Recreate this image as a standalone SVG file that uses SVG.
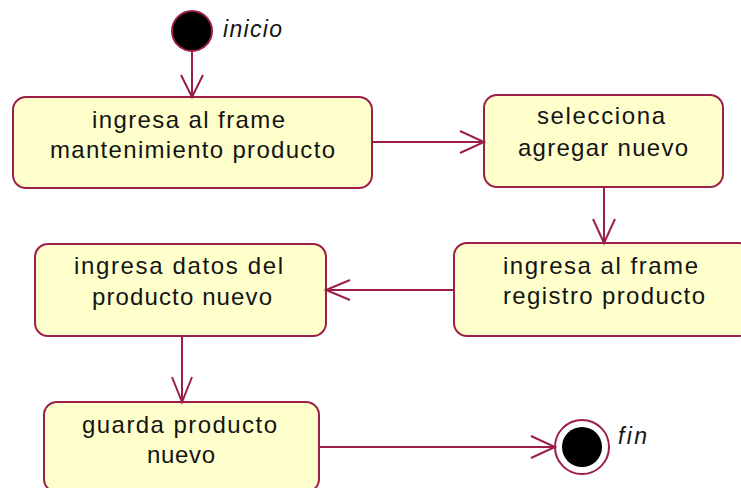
<svg xmlns="http://www.w3.org/2000/svg" width="741" height="488" viewBox="0 0 741 488">
<style>
.box{fill:#ffffcc;stroke:#9c1f4a;stroke-width:2}
.t{font-family:"Liberation Sans",Arial,sans-serif;font-size:24px;fill:#141414}
.lbl{font-family:"Liberation Sans",Arial,sans-serif;font-size:23px;font-style:italic;fill:#141414}
.edge{stroke:#9c1f4a;stroke-width:2;fill:none}
</style>
<rect width="741" height="488" fill="#ffffff"/>
<g id="inicio">
<circle cx="192" cy="31" r="20" fill="#000" stroke="#9c1f4a" stroke-width="2"/>
<text class="lbl" x="223" y="37" textLength="59" lengthAdjust="spacing">inicio</text>
</g>
<g id="n1">
<rect class="box" x="13" y="97" width="359" height="91" rx="13"/>
<text class="t" x="92" y="128" textLength="193" lengthAdjust="spacing">ingresa al frame</text>
<text class="t" x="50" y="158" textLength="285" lengthAdjust="spacing">mantenimiento producto</text>
</g>
<g id="n2">
<rect class="box" x="484" y="95" width="239" height="92" rx="13"/>
<text class="t" x="537" y="124" textLength="128" lengthAdjust="spacing">selecciona</text>
<text class="t" x="518" y="156" textLength="170" lengthAdjust="spacing">agregar nuevo</text>
</g>
<g id="n3">
<rect class="box" x="454" y="243" width="298" height="93" rx="13"/>
<text class="t" x="503" y="274" textLength="195" lengthAdjust="spacing">ingresa al frame</text>
<text class="t" x="503" y="304" textLength="202" lengthAdjust="spacing">registro producto</text>
</g>
<g id="n4">
<rect class="box" x="35" y="244" width="291" height="92" rx="13"/>
<text class="t" x="74" y="274" textLength="209" lengthAdjust="spacing">ingresa datos del</text>
<text class="t" x="92" y="305" textLength="180" lengthAdjust="spacing">producto nuevo</text>
</g>
<g id="n5">
<rect class="box" x="44" y="402" width="275" height="90" rx="13"/>
<text class="t" x="82" y="433" textLength="195" lengthAdjust="spacing">guarda producto</text>
<text class="t" x="147" y="463" textLength="68" lengthAdjust="spacing">nuevo</text>
</g>
<g id="fin">
<circle cx="582" cy="447" r="27" fill="#fff" stroke="#9c1f4a" stroke-width="2"/>
<circle cx="582" cy="447" r="20" fill="#000"/>
<text class="lbl" x="618" y="444" textLength="29" lengthAdjust="spacing">fin</text>
</g>
<g id="connectors">
<path class="edge" d="M192,51 V97 M181,75 L192,97 L203,75"/>
<path class="edge" d="M372,142 H484 M460,131 L484,142 L460,153"/>
<path class="edge" d="M604,187 V243 M593,219 L604,243 L615,219"/>
<path class="edge" d="M454,290 H326 M350,280 L326,290 L350,300"/>
<path class="edge" d="M182,336 V402 M172,377 L182,402 L192,377"/>
<path class="edge" d="M319,447 H555 M531,436 L555,447 L531,458"/>
</g>
</svg>
